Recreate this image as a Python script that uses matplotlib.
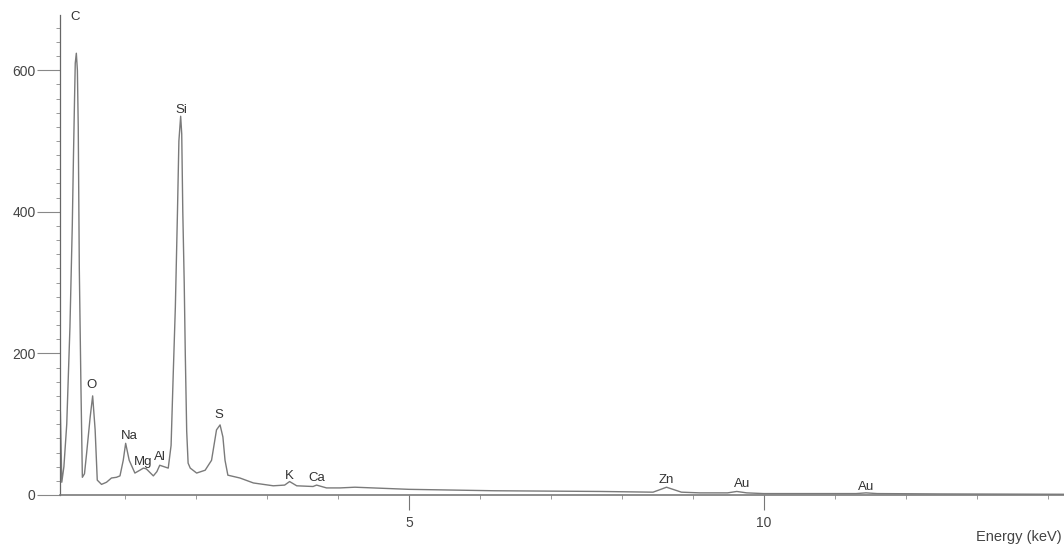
import numpy as np
import matplotlib.pyplot as plt
from matplotlib.ticker import MultipleLocator, FixedLocator

# EDS spectrum (energy in keV, counts)
energy = [0.08, 0.09, 0.11, 0.14, 0.18, 0.225, 0.258, 0.275, 0.29, 0.30,
          0.315, 0.33, 0.342, 0.357, 0.38, 0.40, 0.43, 0.46, 0.51, 0.545,
          0.58, 0.61, 0.67, 0.74, 0.81, 0.88, 0.93, 0.976, 1.01, 1.06,
          1.14, 1.21, 1.26, 1.30, 1.40, 1.45, 1.49, 1.55, 1.61, 1.65,
          1.68, 1.71, 1.74, 1.76, 1.785, 1.80, 1.815, 1.835, 1.85, 1.87,
          1.89, 1.92, 2.01, 2.13, 2.22, 2.29, 2.34, 2.38, 2.41, 2.45,
          2.62, 2.81, 3.09, 3.25, 3.32, 3.42, 3.65, 3.70, 3.84, 4.03,
          4.24, 5.0, 6.2, 7.7, 8.44, 8.55, 8.63, 8.72, 8.84, 9.1,
          9.49, 9.62, 9.76, 10.0, 11.3, 11.44, 11.6, 12.5, 14.3]
counts = [60, 118, 18, 40, 100, 237, 380, 480, 560, 610,
          624, 600, 520, 320, 153, 25, 30, 59, 110, 140,
          92, 21, 15, 18, 24, 25, 27, 49, 73, 49,
          31, 35, 38, 37, 27, 33, 42, 40, 38, 70,
          170, 265, 400, 500, 535, 510, 400, 300, 200, 90,
          45, 38, 31, 35, 49, 92, 99, 82, 49, 28,
          24, 17, 13, 14, 19, 13, 12, 14, 10, 10,
          11, 8, 6, 5, 4, 8, 11, 8, 4, 3,
          3, 5, 3, 2, 2, 3, 2, 1.5, 1]

# peak labels
elements = ["C", "Si", "O", "Na", "Mg", "Al", "S", "K", "Ca", "Zn", "Au", "Au"]
element_kev = [0.30, 1.79, 0.535, 1.056, 1.25, 1.49, 2.32, 3.32, 3.70, 8.63, 9.69, 11.44]
# label heights (layout only)
label_y = [675, 544, 155, 83, 47, 54, 113, 27, 24, 21, 16, 11]

plt.rcParams['font.family'] = ['Liberation Sans', 'DejaVu Sans']

fig = plt.figure(figsize=(10.64, 5.46), dpi=100)
ax = fig.add_axes([60 / 1064, 51 / 546, 1004 / 1064, 480 / 546])

ax.plot(energy, counts, color='#7a7a7a', lw=1.0)

for name, e, y in zip(elements, element_kev, label_y):
    ax.text(e, y, name, ha='center', va='center', fontsize=9.5, color='#333333')

ax.set_xlim(0.085, 14.23)
ax.set_ylim(0, 678)

for s in ['top', 'right']:
    ax.spines[s].set_visible(False)
ax.spines['left'].set_color('#666666')
ax.spines['bottom'].set_color('#7a7a7a')
ax.spines['left'].set_linewidth(0.9)
ax.spines['bottom'].set_linewidth(1.2)

ax.yaxis.set_major_locator(MultipleLocator(200))
ax.yaxis.set_minor_locator(MultipleLocator(20))
ax.xaxis.set_major_locator(FixedLocator([5, 10]))
ax.xaxis.set_minor_locator(MultipleLocator(1))

ax.tick_params(axis='y', which='major', direction='out', length=16.5, width=0.8,
               color='#888888', labelsize=10, labelcolor='#444444', pad=1)
ax.tick_params(axis='y', which='minor', direction='out', length=3, width=0.7, color='#999999')
ax.tick_params(axis='x', which='major', direction='out', length=11, width=0.8,
               color='#777777', labelsize=10, labelcolor='#444444', pad=4)
ax.tick_params(axis='x', which='minor', direction='out', length=3, width=0.7, color='#999999')

fig.text(1062 / 1064, 1 - 537 / 546, "Energy (keV)", fontsize=10.5, color='#444444',
         ha='right', va='center')

fig.savefig("out.png", dpi=100)
